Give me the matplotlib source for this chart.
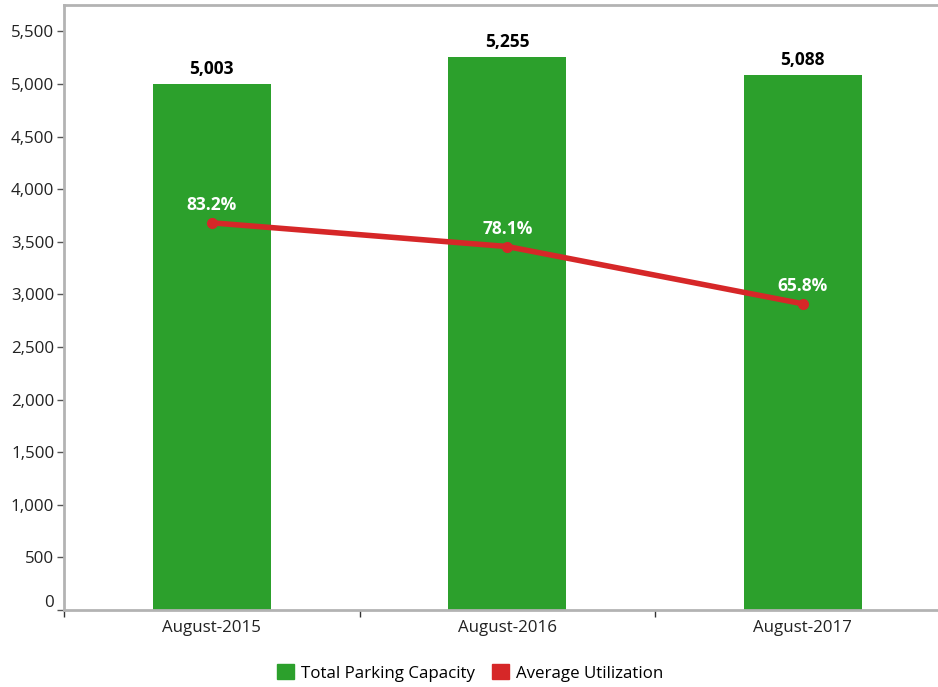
import matplotlib
matplotlib.use("Agg")
import matplotlib.pyplot as plt
from matplotlib.patches import Patch
import matplotlib.transforms as mtransforms
import numpy as np

categories = ["August-2015", "August-2016", "August-2017"]
capacity = [5003, 5255, 5088]
utilization = [83.2, 78.1, 65.8]

plt.rcParams['font.family'] = ['Open Sans', 'DejaVu Sans']

W, H = 938, 687
fig = plt.figure(figsize=(W/100, H/100), dpi=100)
left, right, bottom, top = 64, 950.5, 610, 5
ax = fig.add_axes([left/W, (H-bottom)/H, (right-left)/W, (bottom-top)/H])

green = "#2ca02c"
red = "#d62728"
x = np.arange(len(categories))
bars = ax.bar(x, capacity, width=0.4, color=green, zorder=2)
ax.set_xlim(-0.5, len(categories)-0.5)
ax.set_ylim(0, 5750)
ax.set_yticks(np.arange(0, 5501, 500))
ax.set_yticklabels([f"{v:,}" for v in range(0, 5501, 500)], fontsize=12.2, color="#222222")
ax.set_xticks(x)
ax.set_xticklabels(categories, fontsize=12.2, color="#222222")
ax.tick_params(axis='x', length=0, pad=7)
ax.set_xticks(np.arange(-0.5, len(categories)-0.5, 1), minor=True)
ax.tick_params(axis='x', which='minor', length=5, width=1, color="#333333")
ax.tick_params(axis='y', length=5, width=1, color="#555555", pad=2)
for s in ['left', 'top', 'bottom']:
    ax.spines[s].set_color("#b3b3b3")
    ax.spines[s].set_linewidth(2)
ax.spines['right'].set_visible(False)

# raise the "0" label slightly, as in the reference
zero_lbl = ax.get_yticklabels()[0]
zero_lbl.set_transform(zero_lbl.get_transform() +
                       mtransforms.ScaledTranslation(0, 9/100, fig.dpi_scale_trans))

for xi, v in zip(x, capacity):
    ax.text(xi, v + 55, f"{v:,}", ha='center', va='bottom', fontsize=12.5,
            fontweight='bold', color='black')

ax2 = ax.twinx()
ax2.set_ylim(0, 130)
ax2.plot(x, utilization, color=red, lw=4, marker='o', ms=7, zorder=3,
         solid_capstyle='round')
ax2.set_yticks([])
for s in ax2.spines.values():
    s.set_visible(False)
for xi, v in zip(x, utilization):
    ax2.annotate(f"{v}%", (xi, v), xytext=(0, 6), textcoords='offset points',
                 ha='center', va='bottom', fontsize=12.5, fontweight='bold',
                 color='white')

handles = [Patch(color=green, label="Total Parking Capacity"),
           Patch(color=red, label="Average Utilization")]
fig.legend(handles=handles, loc='center', bbox_to_anchor=(470/W, (H-673)/H),
           ncol=2, frameon=False, fontsize=12.2, handlelength=1.0,
           handleheight=1.0, handletextpad=0.4, columnspacing=1.0)

fig.savefig("out.png", dpi=100)
